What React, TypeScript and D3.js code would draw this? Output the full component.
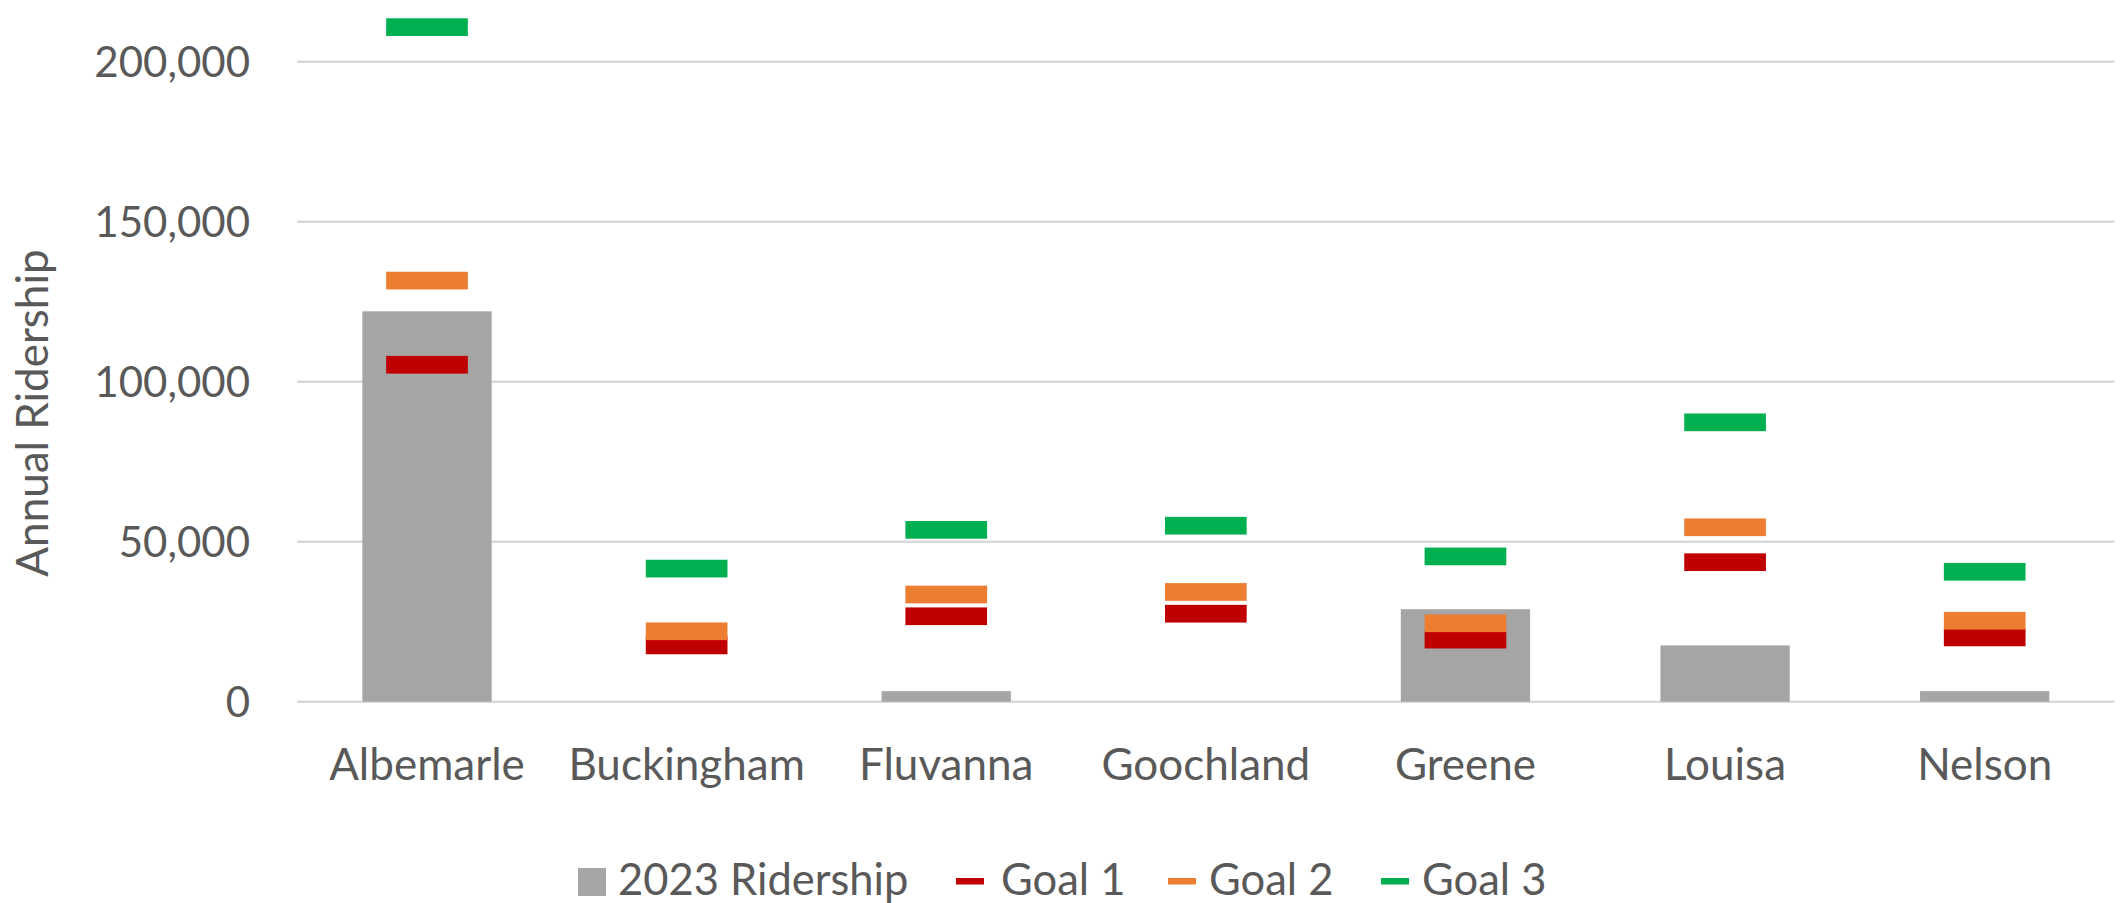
import React from 'react';
import * as d3 from 'd3';

const categories = ['Albemarle', 'Buckingham', 'Fluvanna', 'Goochland', 'Greene', 'Louisa', 'Nelson'];
const ridership2023 = [122000, 0, 3300, 0, 28900, 17600, 3300];
const goal1 = [105300, 17600, 26700, 27500, 19400, 43600, 20100];
const goal2 = [131600, 22000, 33500, 34300, 24500, 54500, 25300];
const goal3 = [210800, 41600, 53700, 55000, 45400, 87300, 40600];
const yTicks = [0, 50000, 100000, 150000, 200000];

const goalSeries = [
  { name: 'Goal 1', values: goal1, color: '#C00000' },
  { name: 'Goal 2', values: goal2, color: '#ED7D31' },
  { name: 'Goal 3', values: goal3, color: '#00B050' },
];

const W = 2126;
const H = 903;
const FONT = 'Lato, "Open Sans", sans-serif';
const TXT = '#595959';

export default function App() {
  const x = d3.scaleBand<string>().domain(categories).range([297.2, 2114.5]).paddingInner(0).paddingOuter(0);
  const y = d3.scaleLinear().domain([0, 200000]).range([701.7, 61.7]);
  const bw = x.bandwidth();
  const barW = bw * 0.498;
  const mW = 81.7;
  const mH = 17.7;
  const fmt = d3.format(',');

  const legend = [
    { kind: 'bar', name: '2023 Ridership', sx: 578, tx: 618, color: '#A5A5A5' },
    { kind: 'line', name: 'Goal 1', sx: 956, tx: 1001, color: '#C00000' },
    { kind: 'line', name: 'Goal 2', sx: 1168, tx: 1209, color: '#ED7D31' },
    { kind: 'line', name: 'Goal 3', sx: 1381, tx: 1422, color: '#00B050' },
  ];

  return (
    <svg width={W} height={H} style={{ position: 'absolute', left: 0, top: 0, background: '#fff' }} fontFamily={FONT}>
      <rect x={0} y={0} width={W} height={H} fill="#fff" />
      {yTicks.map((t) => (
        <g key={t}>
          <line x1={x.range()[0]} x2={x.range()[1]} y1={y(t)} y2={y(t)} stroke="#D9D9D9" strokeWidth={2.5} />
          <text x={250} y={y(t)} dy="0.36em" textAnchor="end" fontSize={42} fill={TXT}>{fmt(t)}</text>
        </g>
      ))}
      {categories.map((c, i) => {
        const cx = (x(c) as number) + bw / 2;
        const v = ridership2023[i];
        return v > 0 ? (
          <rect key={c} x={cx - barW / 2} y={y(v)} width={barW} height={y(0) - y(v)} fill="#A5A5A5" />
        ) : null;
      })}
      {goalSeries.map((s) => (
        <g key={s.name}>
          {categories.map((c, i) => {
            const cx = (x(c) as number) + bw / 2;
            return (
              <rect key={c} x={cx - mW / 2} y={y(s.values[i]) - mH / 2} width={mW} height={mH} fill={s.color} />
            );
          })}
        </g>
      ))}
      {categories.map((c) => (
        <text key={c} x={(x(c) as number) + bw / 2} y={780} textAnchor="middle" fontSize={44} fill={TXT}>{c}</text>
      ))}
      <text transform={`translate(48, 413) rotate(-90)`} textAnchor="middle" fontSize={44} fill={TXT}>Annual Ridership</text>
      {legend.map((l) => (
        <g key={l.name}>
          {l.kind === 'bar' ? (
            <rect x={l.sx} y={868} width={28} height={28} fill={l.color} />
          ) : (
            <rect x={l.sx} y={878} width={28} height={6.5} fill={l.color} />
          )}
          <text x={l.tx} y={895} fontSize={43.5} fill={TXT}>{l.name}</text>
        </g>
      ))}
    </svg>
  );
}
